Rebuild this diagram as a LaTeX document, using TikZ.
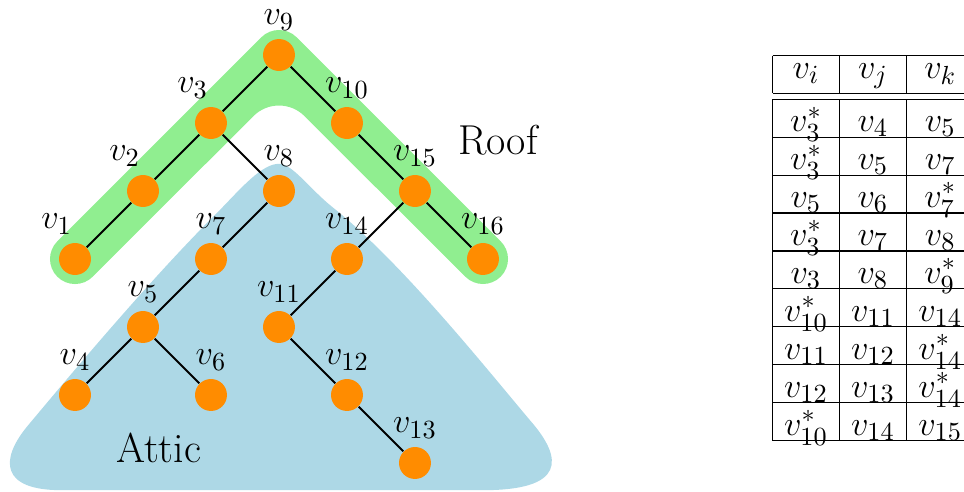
\documentclass[tikz,border=0pt]{standalone}
\definecolor{roofgreen}{RGB}{144,238,144}
\definecolor{atticblue}{RGB}{173,216,230}
\definecolor{vtxorange}{RGB}{255,140,0}
\usepackage{tikz}
\usetikzlibrary{calc}
\usepackage{amsmath,amssymb}
\newcommand{\bigfont}{\fontsize{15.5}{18.6}\selectfont}

\begin{document}
\begin{tikzpicture}[
  font=\bigfont,
  vtx/.style={circle, fill=vtxorange, minimum size=0.47cm, inner sep=0pt},
  link/.style={line width=0.8pt, black},
  every label/.style={font=\bigfont},
  leftlbl/.style={label={[xshift=-2.7mm]above:#1}},
  cell/.style={font=\bigfont, anchor=base, inner sep=0pt},
  rule/.style={line width=0.45pt, black},
  txt/.style={font=\fontsize{17.5}{21}\selectfont, anchor=base},
]
\useasboundingbox (-1.103,-0.412) rectangle (13.074,6.809);

% --- Attic (blue) ---
\fill[atticblue] (3,4.4) .. controls (2.75,4.4) and (2.45,4.05) .. (2.13,3.72)
  .. controls (1.2,2.8) and (0.1,1.5) .. (-0.71,0.53)
  .. controls (-1.1,0.05) and (-1.1,-0.4) .. (-0.2,-0.4)
  -- (6,-0.4)
  .. controls (7.2,-0.4) and (7.2,0.05) .. (6.69,0.63)
  .. controls (6,1.45) and (4.8,2.95) .. (3.79,3.76)
  .. controls (3.45,4.03) and (3.2,4.4) .. (3,4.4) -- cycle;

% --- Roof (green band) ---
\fill[roofgreen] (0.26,2.74) -- (2.625,5.102) arc[start angle=135, end angle=45, radius=0.53]
  -- (5.74,2.74) arc[start angle=225, end angle=405, radius=0.368]
  -- (3.26,6.26) arc[start angle=45, end angle=135, radius=0.368]
  -- (-0.26,3.26) arc[start angle=135, end angle=315, radius=0.368] -- cycle;

% --- Vertices ---
\node[vtx, leftlbl=$v_1$] (v1) at (0,3) {};
\node[vtx, leftlbl=$v_2$] (v2) at (1,4) {};
\node[vtx, leftlbl=$v_3$] (v3) at (2,5) {};
\node[vtx, label=above:$v_9$] (v9) at (3,6) {};
\node[vtx, label=above:$v_{10}$] (v10) at (4,5) {};
\node[vtx, label=above:$v_{15}$] (v15) at (5,4) {};
\node[vtx, label=above:$v_{16}$] (v16) at (6,3) {};
\node[vtx, label=above:$v_8$] (v8) at (3,4) {};
\node[vtx, label=above:$v_7$] (v7) at (2,3) {};
\node[vtx, label=above:$v_5$] (v5) at (1,2) {};
\node[vtx, label=above:$v_4$] (v4) at (0,1) {};
\node[vtx, label=above:$v_6$] (v6) at (2,1) {};
\node[vtx, label=above:$v_{14}$] (v14) at (4,3) {};
\node[vtx, label=above:$v_{11}$] (v11) at (3,2) {};
\node[vtx, label=above:$v_{12}$] (v12) at (4,1) {};
\node[vtx, label=above:$v_{13}$] (v13) at (5,0) {};

% --- Edges ---
\draw[link] (v1) -- (v2) -- (v3) -- (v9) -- (v10) -- (v15) -- (v16);
\draw[link] (v3) -- (v8) -- (v7) -- (v5) -- (v4);
\draw[link] (v5) -- (v6);
\draw[link] (v15) -- (v14) -- (v11) -- (v12) -- (v13);

% --- Region names ---
\node[txt] (roof) at (6.22,4.53) {Roof};
\node[txt] (attic) at (1.23,0) {Attic};

% --- Table ---
\foreach \x in {10.26,11.24,12.23,13.22} {
  \draw[rule] (\x,5.99) -- (\x,5.44);
  \draw[rule] (\x,5.35) -- (\x,0.328);
}
\foreach \y in {5.99,5.44,5.35} \draw[rule] (10.26,\y) -- (13.22,\y);
\foreach \r in {1,...,9} \draw[rule] (10.26,{5.35-\r*0.558}) -- (13.22,{5.35-\r*0.558});

\node[cell] (hi) at (10.75,5.658) {$v_i$};
\node[cell] (hj) at (11.735,5.658) {$v_j$};
\node[cell] (hk) at (12.725,5.658) {$v_k$};

\foreach \a/\b/\c [count=\r] in {v_3^*/v_4/v_5, v_3^*/v_5/v_7, v_5/v_6/v_7^*,
    v_3^*/v_7/v_8, v_3/v_8/v_9^*, v_{10}^*/v_{11}/v_{14}, v_{11}/v_{12}/v_{14}^*,
    v_{12}/v_{13}/v_{14}^*, v_{10}^*/v_{14}/v_{15}} {
  \node[cell] (row\r-i) at (10.75,{5.35-(\r-1)*0.558-0.476}) {$\a$};
  \node[cell] (row\r-j) at (11.735,{5.35-(\r-1)*0.558-0.476}) {$\b$};
  \node[cell] (row\r-k) at (12.725,{5.35-(\r-1)*0.558-0.476}) {$\c$};
}

\end{tikzpicture}
\end{document}
